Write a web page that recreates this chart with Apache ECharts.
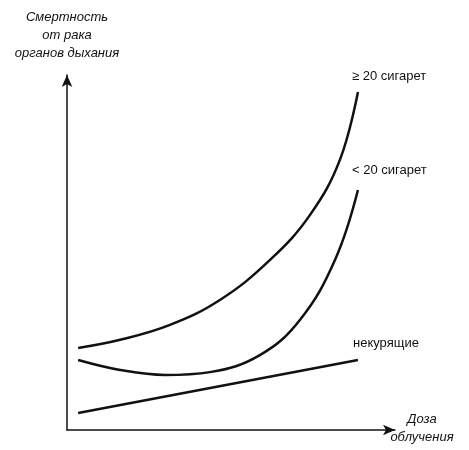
<!DOCTYPE html>
<html>
<head>
<meta charset="utf-8">
<script src="https://cdn.jsdelivr.net/npm/echarts@6/dist/echarts.min.js"></script>
<style>html,body{margin:0;background:#fff}#c{width:469px;height:450px}</style>
</head>
<body>
<div id="c"></div>
<script>
// кривые (условные единицы 0..100)
var heavy = [[3.4, 23.1], [16.2, 25.4], [31.4, 29.6], [46.6, 36.6], [61.9, 47.9], [74.1, 60.6], [83.2, 76.1], [88.7, 95.2]];
var light = [[3.4, 19.7], [16.2, 16.9], [29.9, 15.5], [43.6, 16.3], [58.8, 21.1], [71.0, 31.0], [81.7, 47.9], [88.7, 67.6]];
var nonSmokers = [[3.4, 4.8], [88.7, 19.7]];
var labels = ['≥ 20 сигарет', '< 20 сигарет', 'некурящие'];

var chart = echarts.init(document.getElementById('c'));
var font = 'Liberation Sans, Arial, sans-serif';

function line(data) {
    return {
        type: 'line', data: data, smooth: 0.4, symbol: 'none',
        lineStyle: {color: '#111', width: 2.5}
    };
}

var axisCommon = {
    type: 'value', min: 0, max: 100,
    splitLine: {show: false}, axisTick: {show: false}, axisLabel: {show: false},
    axisLine: {show: true, onZero: false, symbol: ['none', 'arrow'], symbolSize: [8, 12],
        lineStyle: {color: '#111', width: 1.5}}
};

chart.setOption({
    animation: false,
    grid: {left: 67, right: 74, top: 75, bottom: 20},
    xAxis: axisCommon,
    yAxis: axisCommon,
    series: [line(heavy), line(light), line(nonSmokers)],
    graphic: [
        {type: 'text', x: 67, y: 8, style: {text: 'Смертность\nот рака\nорганов дыхания', font: 'italic 13px ' + font, fill: '#111', align: 'center', lineHeight: 18}},
        {type: 'text', x: 422, y: 410, style: {text: 'Доза\nоблучения', font: 'italic 13px ' + font, fill: '#111', align: 'center', lineHeight: 18}},
        {type: 'text', left: 352, top: 70, style: {text: labels[0], font: '13px ' + font, fill: '#111'}},
        {type: 'text', left: 352, top: 164, style: {text: labels[1], font: '13px ' + font, fill: '#111'}},
        {type: 'text', left: 353, top: 337, style: {text: labels[2], font: '13px ' + font, fill: '#111'}}
    ]
});
</script>
</body>
</html>
